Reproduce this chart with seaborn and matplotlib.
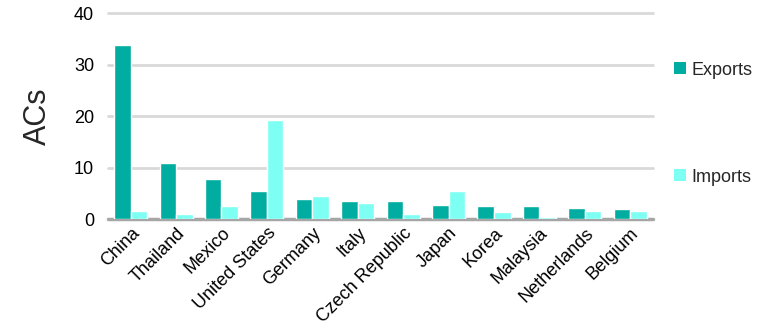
import numpy as np
import pandas as pd
import matplotlib
matplotlib.use('Agg')
import matplotlib.pyplot as plt
import seaborn as sns
from matplotlib.patches import Patch

# --- DATA ---
countries = ['China', 'Thailand', 'Mexico', 'United States', 'Germany', 'Italy',
             'Czech Republic', 'Japan', 'Korea', 'Malaysia', 'Netherlands', 'Belgium']
exports = [33.8, 10.9, 7.8, 5.4, 3.9, 3.6, 3.6, 2.7, 2.5, 2.5, 2.2, 1.9]
imports = [1.6, 0.9, 2.5, 19.2, 4.5, 3.1, 1.0, 5.5, 1.4, 0.5, 1.6, 1.6]
series = ['Exports', 'Imports']
colors = ['#00ADA0', '#7DFFF4']

df = pd.DataFrame({'Country': countries * 2,
                   'Series': ['Exports'] * len(countries) + ['Imports'] * len(countries),
                   'ACs': exports + imports})

sns.set_style('white')
plt.rcParams['font.family'] = ['Liberation Sans', 'DejaVu Sans']

fig = plt.figure(figsize=(7.69, 3.28), dpi=100)
ax = fig.add_axes([0.1404, 0.332, 0.7086, 0.628])

sns.barplot(data=df, x='Country', y='ACs', hue='Series', order=countries,
            hue_order=series, palette=colors, width=0.73, saturation=1,
            ax=ax, legend=False, zorder=2)

ax.set_ylim(0, 40)
ax.set_yticks([0, 10, 20, 30, 40])
ax.set_xlim(-0.5, len(countries) - 0.5)
for y in [10, 20, 30, 40]:
    ax.axhline(y, color='#D9D9D9', lw=2, zorder=0, clip_on=False)
# baseline sits under the bars so tiny values stay visible
ax.axhline(0, color='#A6A6A6', lw=2.5, zorder=1, clip_on=False)

for s in ax.spines.values():
    s.set_visible(False)
ax.tick_params(axis='both', length=0, labelsize=13, colors='#000000')
ax.tick_params(axis='y', pad=10)
ax.tick_params(axis='x', pad=4)
plt.setp(ax.get_xticklabels(), rotation=45, ha='right', rotation_mode='anchor')
ax.set_xlabel('')
ax.set_ylabel('ACs', fontsize=22, labelpad=15)

handles = [Patch(facecolor=c, edgecolor='none') for c in colors]
fig.legend(handles, series, loc='upper left', bbox_to_anchor=(0.865, 0.84),
           frameon=False, fontsize=13, handlelength=0.65, handleheight=0.65,
           handletextpad=0.3, labelspacing=5.0, borderpad=0)

fig.savefig('out.png', dpi=100)
